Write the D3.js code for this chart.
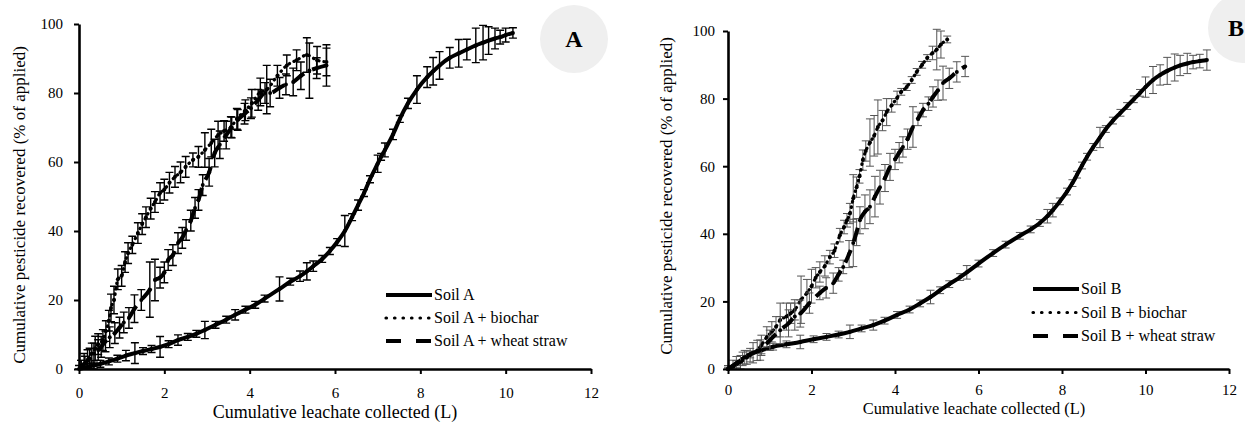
<!DOCTYPE html>
<html>
<head>
<meta charset="utf-8">
<script src="https://cdn.jsdelivr.net/npm/d3@7"></script>
<style>
  body { margin: 0; background: #fff; }
  svg text { font-family: "Liberation Serif", "Times New Roman", "DejaVu Serif", serif; fill: #000; }
</style>
</head>
<body>
<div id="plot"></div>
<script>
// Width and height
const w = 1245;
const h = 428;
const serif = "'Liberation Serif', 'Times New Roman', 'DejaVu Serif', serif";

// tick values (both panels)
const xTicks = [0, 2, 4, 6, 8, 10, 12];
const yTicks = [0, 20, 40, 60, 80, 100];

// series data: [leachate (L), recovered (%), error]
const soilA = [
  [0,0,1],[0.1,0.3,1],[0.2,0.6,1],[0.35,1,1],[0.5,1.5,1],[0.7,2.2,1],[0.9,3,1],[1.1,3.9,1.5],
  [1.31,4.6,3],[1.5,5.2,1],[1.7,5.8,1],[1.9,6.4,3],[2.1,7.2,1],[2.32,8.4,1.5],[2.55,9.3,1],
  [2.75,10.2,1],[2.95,11.3,2.5],[3.2,12.8,1],[3.45,14.3,1],[3.66,15.7,1.5],[3.9,17.2,1],
  [4.13,18.6,1],[4.35,20.4,1],[4.7,23.2,3.5],[4.95,25.3,1],[5.18,26.9,1.5],[5.34,28.3,2.5],
  [5.49,29.8,1.5],[5.7,31.9,1],[5.88,34.2,1],[6.05,36.8,1],[6.23,40,4.5],[6.4,44,1],
  [6.54,47.5,1.5],[6.68,51,1],[6.82,55,1],[7.0,59.5,2.5],[7.08,61.5,1],[7.17,63.5,2],
  [7.36,68,1.5],[7.52,72.5,1],[7.71,77,1.5],[7.92,81,4],[8.16,84.6,3],[8.3,86.3,4],
  [8.45,88,4],[8.69,90.2,3],[8.9,91.5,4],[9.09,92.6,3],[9.3,93.8,5],[9.47,94.6,5],
  [9.6,95.2,4],[9.75,95.8,3],[9.87,96.2,2],[10.0,96.8,2],[10.17,97.4,1.5]
];
const soilABiochar = [
  [0.05,0.5,2],[0.12,1.5,3],[0.2,2.6,3],[0.3,4.5,3],[0.38,6,3.5],[0.45,7.2,3],[0.56,8.4,3],
  [0.63,11,3],[0.7,14,3],[0.75,17.7,4],[0.82,20,4],[0.91,26,3],[1.0,27,3],[1.08,31,3],
  [1.15,33.6,3],[1.25,36,2.5],[1.38,39.4,3],[1.48,42,3],[1.57,44,3],[1.68,46.5,3],
  [1.78,48.4,3],[1.9,51,3],[2.0,52,3],[2.12,54,3],[2.25,55.7,3],[2.38,57,3],[2.5,58.6,3],
  [2.67,60.6,2],[2.8,61.5,3],[2.95,63.5,5],[3.1,65.5,4],[3.26,67.8,4],[3.4,69,3],
  [3.56,70.1,3],[3.7,72.5,3],[3.9,75,3],[4.05,77,4],[4.25,80.3,4],[4.4,81,7],[4.65,85,3],
  [4.87,88,3],[5.1,89.5,3],[5.34,91,5],[5.58,89.5,4],[5.8,89,4]
];
const soilAWheat = [
  [0.05,0.5,2],[0.14,1.7,2],[0.25,3,3],[0.35,4.5,3],[0.45,5.5,3],[0.52,6.4,3],[0.62,8,3],
  [0.72,9.2,3],[0.84,10.4,3],[0.95,12,3],[1.05,13.5,3],[1.17,14.8,3],[1.3,17.5,4],
  [1.46,20,3],[1.66,23,8],[1.78,25.8,6],[1.9,26.5,3],[2.0,28,3],[2.09,31.6,3],[2.2,33,3],
  [2.32,36.5,3],[2.42,38,3],[2.51,40.3,3],[2.62,43,3],[2.72,46.7,3],[2.8,49,3],
  [2.9,53.3,3],[3.05,57,4],[3.18,62.6,4],[3.3,65,4],[3.45,67.8,4],[3.58,70,3],
  [3.72,72.2,3],[3.88,74,3],[4.03,75.6,3],[4.2,78,3],[4.36,80,3],[4.48,80,4],[4.7,81.5,3],
  [4.85,82.5,3],[5.02,83.2,4],[5.2,85,4],[5.4,86.5,8],[5.57,87.2,3],[5.8,88,6]
];
const soilB = [
  [0,0,0.5],[0.2,1.5,1],[0.35,3,2],[0.53,4.3,1],[0.8,5.5,1],[1.08,6.6,1],[1.4,7.3,1],
  [1.73,8.0,2],[2.05,8.8,1],[2.36,9.5,1],[2.65,10.2,1],[2.92,11.0,2],[3.2,12,1],
  [3.48,13.0,1.5],[3.75,14.3,1],[4.05,16.0,1],[4.35,17.6,1],[4.6,19.4,1],[4.85,21.3,2],
  [5.08,23.3,1],[5.3,25.1,1],[5.56,27.2,1],[5.72,28.6,2],[6.0,31.2,1],[6.35,34.3,1],
  [6.65,36.8,1],[6.99,39.4,1],[7.25,41.3,1],[7.47,43.2,1],[7.65,45.2,2],[7.78,47,2],
  [7.95,49.6,1],[8.12,52.5,1],[8.25,55,1],[8.36,57.5,1],[8.48,60.2,1],[8.6,62.8,1],
  [8.75,65.7,1],[8.91,68.5,3],[9.05,71,1],[9.22,73.5,1],[9.4,75.8,1],[9.56,77.8,1],
  [9.72,79.8,1],[9.87,81.7,1],[10.0,83.4,3],[10.18,85.5,4],[10.35,87,3],[10.52,88.2,4],
  [10.7,89.2,4],[10.83,89.8,3],[11.0,90.4,3],[11.14,90.8,2],[11.3,91.1,2],[11.47,91.4,3]
];
const soilBBiochar = [
  [0,0,1],[0.12,0.6,2],[0.3,2,2],[0.45,3.4,2],[0.53,4.1,2],[0.7,5.5,3],[0.8,7,3],
  [0.93,9.5,3],[1.05,11,3],[1.15,12.5,3],[1.25,14.5,5],[1.4,15.5,4],[1.5,16.5,3],
  [1.6,17.5,3],[1.75,20.5,7],[1.89,22.5,4],[2.0,24.5,5],[2.1,27,3],[2.2,28.7,3],
  [2.32,30.5,3],[2.44,33.1,2],[2.55,35,2],[2.68,39.6,2],[2.78,42,2],[2.85,44,2],
  [2.92,46,3],[3.0,50.5,7],[3.08,53.8,3],[3.15,57,2],[3.23,61.8,3],[3.3,64.5,3],
  [3.4,67,7],[3.5,69,6],[3.59,71.6,8],[3.7,73.5,3],[3.8,76,4],[3.92,78,2],[4.05,80.2,2],
  [4.15,82,1],[4.28,83.4,1],[4.4,85.5,1],[4.52,87.9,1],[4.65,90,1],[4.77,92,1],
  [4.9,93.5,2],[5.0,94.5,6],[5.1,96,4],[5.25,97.5,1]
];
const soilBWheat = [
  [0,0,1],[0.2,1.7,2],[0.4,3.5,2],[0.6,4.8,3],[0.77,5.6,3],[1.0,8.5,3],[1.25,11.5,4],
  [1.45,13.5,4],[1.6,15.5,4],[1.73,16.4,4],[1.95,19.5,3],[2.2,22.5,2],[2.35,24,3],
  [2.52,25.4,3],[2.65,28,2],[2.76,30.2,2],[2.9,34,4],[3.0,37.3,7],[3.08,40.5,4],
  [3.16,44,4],[3.28,46.5,5],[3.4,48,5],[3.52,51,6],[3.64,53.8,5],[3.76,56.5,4],
  [3.88,59.8,4],[4.0,62,3],[4.1,64,3],[4.19,65.7,3],[4.3,68,3],[4.43,71.6,6],[4.55,74,2],
  [4.67,76.6,2],[4.8,78.5,2],[4.91,80.5,3],[5.03,82.5,3],[5.15,84.6,5],[5.3,86,3],
  [5.48,87.9,3],[5.68,89.5,3]
];

const legendA = ["Soil A", "Soil A + biochar", "Soil A + wheat straw"];
const legendB = ["Soil B", "Soil B + biochar", "Soil B + wheat straw"];

// line styles: solid, dotted, dashed
const styles = [
  {dash: null, width: 4, cap: "butt"},
  {dash: "0.5 5", width: 3.2, cap: "round"},
  {dash: "14 9", width: 4, cap: "butt"}
];

// create SVG element
const svg = d3.select("div#plot")
  .append("svg")
    .attr("width", w)
    .attr("height", h)
    .style("font-family", serif);

svg.append("rect")
  .attr("width", w)
  .attr("height", h)
  .attr("fill", "#fff");

function drawPanel(p) {
  const g = svg.append("g");

  const xScale = d3.scaleLinear().domain([0, 12]).range([p.left, p.right]);
  const yScale = d3.scaleLinear().domain([0, 100]).range([p.bottom, p.top]);

  // badge circle
  g.append("circle")
    .attr("cx", p.badge[0])
    .attr("cy", p.badge[1])
    .attr("r", p.badge[2])
    .attr("fill", "#efefef");
  g.append("text")
    .attr("x", p.badge[0] + p.badgeDx)
    .attr("y", p.badge[1] + 8)
    .attr("text-anchor", "middle")
    .style("font-family", serif)
    .style("font-size", "24px")
    .style("font-weight", "bold")
    .text(p.label);

  const line = d3.line()
    .x(d => xScale(d[0]))
    .y(d => yScale(d[1]))
    .curve(d3.curveMonotoneX);

  p.series.forEach((data, i) => {
    const st = styles[i];

    // error bars
    const eb = g.append("g")
      .attr("stroke", p.errColor)
      .attr("stroke-width", p.errWidth)
      .attr("fill", "none");
    eb.selectAll("path")
      .data(data)
      .enter()
      .append("path")
      .attr("d", d => {
        const x = xScale(d[0]);
        const y1 = yScale(d[1] + d[2]);
        const y2 = yScale(Math.max(0, d[1] - d[2]));
        return `M${x - 4},${y1}H${x + 4}M${x},${y1}V${y2}M${x - 4},${y2}H${x + 4}`;
      });

    // line
    g.append("path")
      .datum(data)
      .attr("d", line)
      .attr("fill", "none")
      .attr("stroke", "#000")
      .attr("stroke-width", st.width)
      .attr("stroke-linecap", st.cap)
      .attr("stroke-dasharray", st.dash);

    // markers
    g.append("g")
      .selectAll("circle")
      .data(data)
      .enter()
      .append("circle")
      .attr("cx", d => xScale(d[0]))
      .attr("cy", d => yScale(d[1]))
      .attr("r", 2)
      .attr("fill", "#000");
  });

  // axes
  const xAxis = d3.axisBottom(xScale)
    .tickValues(xTicks)
    .tickSize(5)
    .tickSizeOuter(0)
    .tickPadding(p.xPad);
  const yAxis = d3.axisLeft(yScale)
    .tickValues(yTicks)
    .tickSize(5)
    .tickSizeOuter(0)
    .tickPadding(p.yPad);

  const gx = g.append("g")
    .attr("transform", `translate(0, ${p.bottom})`)
    .call(xAxis);
  const gy = g.append("g")
    .attr("transform", `translate(${p.left}, 0)`)
    .call(yAxis);

  [gx, gy].forEach(a => {
    a.attr("font-family", null).attr("font-size", null);
    a.select(".domain").attr("stroke-width", 2.6);
    a.selectAll(".tick line").attr("stroke-width", 2);
    a.selectAll(".tick text")
      .style("font-family", serif)
      .style("font-size", "15px");
  });

  // x-axis label
  g.append("text")
    .attr("x", p.xTitle[0])
    .attr("y", p.xTitle[1])
    .attr("text-anchor", "middle")
    .style("font-family", serif)
    .style("font-size", p.xTitleSize)
    .text("Cumulative leachate collected (L)");

  // y-axis label
  g.append("text")
    .attr("transform", `translate(${p.yTitle[0]}, ${p.yTitle[1]}) rotate(-90)`)
    .attr("text-anchor", "middle")
    .style("font-family", serif)
    .style("font-size", "17px")
    .text("Cumulative pesticide recovered (% of applied)");

  // legend
  const lg = g.append("g");
  p.legend.forEach((name, i) => {
    const st = styles[i];
    const y = p.legendPos[1] + i * p.legendStep;
    lg.append("line")
      .attr("x1", p.legendPos[0])
      .attr("x2", p.legendPos[0] + 46)
      .attr("y1", y)
      .attr("y2", y)
      .attr("stroke", "#000")
      .attr("stroke-width", st.width)
      .attr("stroke-linecap", st.cap)
      .attr("stroke-dasharray", i === 1 ? "0.5 8" : (i === 2 ? "15 15" : null));
    lg.append("text")
      .attr("x", p.legendPos[0] + 48)
      .attr("y", y + 5)
      .style("font-family", serif)
      .style("font-size", "16px")
      .text(name);
  });
}

drawPanel({
  label: "A",
  left: 79, right: 591, top: 24, bottom: 369,
  series: [soilA, soilABiochar, soilAWheat],
  legend: legendA,
  legendPos: [386, 295], legendStep: 23,
  badge: [574, 39, 34], badgeDx: 0,
  errColor: "#000", errWidth: 1.4,
  xPad: 13, yPad: 11,
  xTitle: [335, 418], xTitleSize: "18px",
  yTitle: [25, 205]
});

drawPanel({
  label: "B",
  left: 728, right: 1229, top: 31, bottom: 369,
  series: [soilB, soilBBiochar, soilBWheat],
  legend: legendB,
  legendPos: [1033, 289], legendStep: 23.5,
  badge: [1243, 28, 35], badgeDx: -7,
  errColor: "#555", errWidth: 1,
  xPad: 10, yPad: 8,
  xTitle: [974, 414], xTitleSize: "16.4px",
  yTitle: [672, 196]
});
</script>
</body>
</html>
